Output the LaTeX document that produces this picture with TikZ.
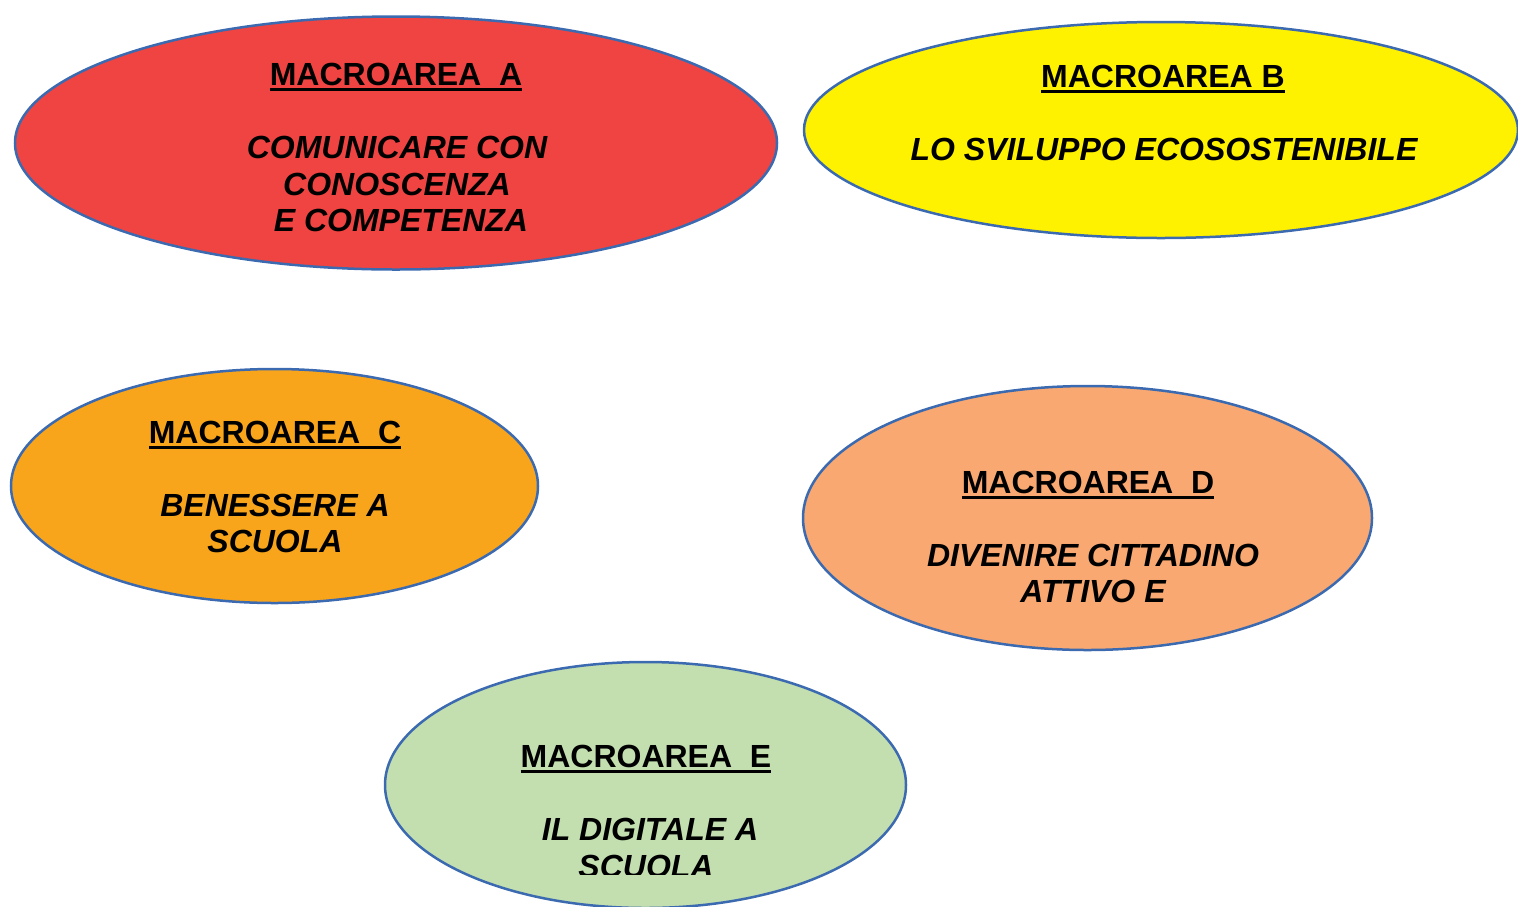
\documentclass[tikz,border=0pt]{standalone}
\usepackage{fontspec}
\setmainfont{Liberation Sans}
\usetikzlibrary{shapes.geometric}
\definecolor{bordo}{HTML}{3C6AB0}
\definecolor{cA}{HTML}{EF4442}
\definecolor{cB}{HTML}{FFF200}
\definecolor{cC}{HTML}{F8A51C}
\definecolor{cD}{HTML}{F8A870}
\definecolor{cE}{HTML}{C3DFB0}
\newcommand\myul[1]{\setbox0\hbox{#1}\rlap{\rule[-5.5pt]{\wd0}{3pt}}\box0}
\tikzset{
  area/.style={ellipse, draw=bordo, line width=2.5pt, inner sep=0pt, outer sep=0pt},
  head/.style={anchor=base, inner sep=0pt, font=\fontsize{32}{37}\selectfont\bfseries},
  body/.style={anchor=base, inner sep=0pt, font=\fontsize{32}{37}\selectfont\bfseries\itshape}
}
\begin{document}
\begin{tikzpicture}[x=1pt,y=-1pt]
\useasboundingbox (0,0) rectangle (1518,906);
% ellipses
\node[area, fill=cA, minimum width=762pt, minimum height=253pt] (A) at (396,143) {};
\node[area, fill=cB, minimum width=714pt, minimum height=216pt] (B) at (1161,130) {};
\node[area, fill=cC, minimum width=527pt, minimum height=234pt] (C) at (274.5,486) {};
\node[area, fill=cD, minimum width=569pt, minimum height=264pt] (D) at (1087.5,518) {};
\node[area, fill=cE, minimum width=521pt, minimum height=246pt] (E) at (645.5,785) {};
% texts A
\node[head] (aH) at (396,85.5) {\myul{MACROAREA\ \ A}};
\node[body] (a1) at (397,158.5) {COMUNICARE CON};
\node[body] (a2) at (397,195.5) {CONOSCENZA};
\node[body] (a3) at (401,231.5) {E COMPETENZA};
% texts B
\node[head] (bH) at (1163,87.5) {\myul{MACROAREA B}};
\node[body] (b1) at (1164,160.5) {LO SVILUPPO ECOSOSTENIBILE};
% texts C
\node[head] (cH) at (275,443.5) {\myul{MACROAREA\ \ C}};
\node[body] (c1) at (275,516.5) {BENESSERE A};
\node[body] (c2) at (275,552.5) {SCUOLA};
% texts D
\node[head] (dH) at (1088,493.5) {\myul{MACROAREA\ \ D}};
\node[body] (d1) at (1093,566.5) {DIVENIRE CITTADINO};
\node[body] (d2) at (1093,602.5) {ATTIVO E};
% texts E
\node[head] (eH) at (646,767.5) {\myul{MACROAREA\ \ E}};
\node[body] (e1) at (650,840.5) {IL DIGITALE A};
\begin{scope}
\clip (0,0) rectangle (1518,874);
\node[body] (e2) at (646,877) {SCUOLA};
\end{scope}
\end{tikzpicture}
\end{document}
